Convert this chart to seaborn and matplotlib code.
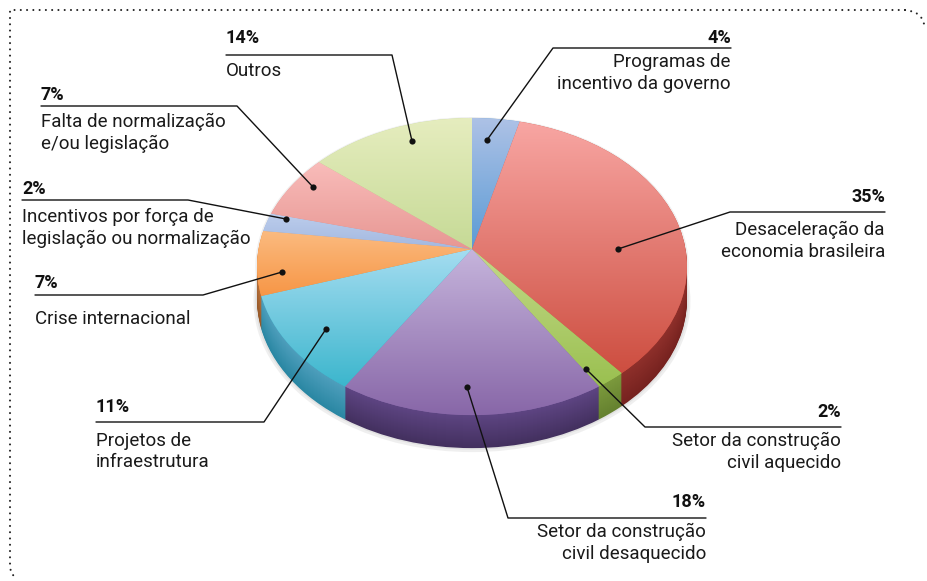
import numpy as np
import pandas as pd
import seaborn as sns
from matplotlib import pyplot as plt
from matplotlib.colors import LinearSegmentedColormap, to_rgb
from matplotlib.transforms import Transform

categories = ['Programas de\nincentivo da governo', 'Desaceleração da\neconomia brasileira',
              'Setor da construção\ncivil aquecido', 'Setor da construção\ncivil desaquecido',
              'Projetos de\ninfraestrutura', 'Crise internacional',
              'Incentivos por força de\nlegislação ou normalização',
              'Falta de normalização\ne/ou legislação', 'Outros']
shares = [4, 35, 2, 18, 11, 7, 2, 7, 14]
face_top = ['#aec2e6', '#f8a6a3', '#c4d98a', '#c6b5dc', '#a6ddf1', '#fbbb80', '#bccdec', '#f9bcba', '#e6edbf']
face_bottom = ['#5b9bd5', '#cd4e40', '#9ac050', '#8867a8', '#3cb6cd', '#f79646', '#a3b8e0', '#e79793', '#c6da96']
rim_top = ['#5b84b1', '#8f302b', '#7c9a3d', '#5e4583', '#4f9fbd', '#b9713a', '#7f93b8', '#a96a68', '#93a36a']
rim_bottom = ['#466a92', '#76221f', '#65812f', '#43305f', '#2a87a3', '#95592a', '#66799b', '#8b5250', '#7a8a56']

# text x, align, y of percent, y of each text line, rule ends, leader end
layout = [
    (731, 'right', 38, [62, 84], (731, 553, 48), (487, 140)),
    (885, 'right', 197, [230, 252], (885, 730, 212), (618, 249)),
    (841, 'right', 412, [441, 463], (841, 645, 427), (586, 369)),
    (706, 'right', 502, [532, 554], (706, 508, 518), (467, 387)),
    (96, 'left', 407, [441, 462], (96, 264, 422), (326, 329)),
    (35, 'left', 283, [319], (35, 203, 295), (282, 272)),
    (22, 'left', 189, [217, 239], (22, 188, 200), (286, 219)),
    (41, 'left', 95, [122, 144], (41, 237, 106), (313, 187)),
    (226, 'left', 38, [71], (226, 392, 55), (412, 141)),
]

sns.set_theme(style='white')
plt.rcParams['font.family'] = ['Roboto', 'DejaVu Sans']


class Perspective(Transform):
    # tilted disc: far side shrinks, near side grows
    input_dims = output_dims = 2

    def __init__(self, cy):
        super().__init__()
        self.cy = cy

    def transform_non_affine(self, xy):
        xy = np.asarray(xy)
        w = 1 + 0.118 * xy[:, 1]
        return np.column_stack([472 + 213.5 * xy[:, 0] / w, self.cy - 146.5 * xy[:, 1] / w])


def blend(a, b, t):
    return tuple((1 - t) * np.array(to_rgb(a)) + t * np.array(to_rgb(b)))


def draw_pie(ax, colors, cy, radius=1, alpha=None, zorder=1):
    wedges, _ = ax.pie(shares, colors=colors, startangle=90, counterclock=False, radius=radius,
                       normalize=True, wedgeprops={'linewidth': 0, 'alpha': alpha, 'zorder': zorder})
    persp = Perspective(cy)
    for w in wedges:
        w.set_transform(persp + ax.transData)
    return wedges, persp


fig = plt.figure(figsize=(9.27, 5.81), dpi=100)
ax = fig.add_axes([0, 0, 1, 1])

# soft shadow round the disc
for grow, depth in [(1.016, 34), (1.008, 33), (1.008, 0)]:
    draw_pie(ax, ['#808080'] * len(shares), 249 + depth, radius=grow, alpha=0.12, zorder=1)

# side wall, stacked from the bottom up
for depth in np.arange(33, 0, -1):
    t = 1 - depth / 33
    draw_pie(ax, [blend(b, a, t) for a, b in zip(rim_top, rim_bottom)], 249 + depth, zorder=2)

# top face with a vertical gradient in each slice
wedges, persp = draw_pie(ax, face_bottom, 249, zorder=3)
for w, c0, c1 in zip(wedges, face_top, face_bottom):
    verts = (w.get_patch_transform() + persp).transform_path(w.get_path()).vertices
    x0, y0 = verts.min(axis=0)
    x1, y1 = verts.max(axis=0)
    cmap = LinearSegmentedColormap.from_list('face', [c0, c1])
    im = ax.imshow(np.linspace(0, 1, 256)[:, None], cmap=cmap, aspect='auto',
                   extent=(x0, x1, y1, y0), zorder=4)
    im.set_clip_path(w)

ax.set_aspect('auto')

# dotted frame
ax.plot([905, 10, 10, 11, 17], [10, 10, 565, 573, 579], color='#222222', lw=1.5,
        ls=(0, (0.01, 3.0)), dash_capstyle='round', zorder=5)
ax.plot([905, 915, 921, 925], [10, 12, 17, 26], color='#222222', lw=1.5,
        ls=(0, (0.01, 3.0)), dash_capstyle='round', zorder=5)

# labels, rules and leaders
for cat, share, (tx, ha, py, lines, rule, tip) in zip(categories, shares, layout):
    ax.text(tx, py, f'{share}%', ha=ha, va='center', fontsize=13, fontweight='bold',
            color='#111111', zorder=6)
    for line, ly in zip(cat.split('\n'), lines):
        ax.text(tx, ly, line, ha=ha, va='center', fontsize=13.5, color='#1a1a1a', zorder=6)
    ax.plot([rule[0], rule[1], tip[0]], [rule[2], rule[2], tip[1]], color='#111111', lw=1.0, zorder=6)

tips = pd.DataFrame([row[5] for row in layout], columns=['x', 'y'])
sns.scatterplot(data=tips, x='x', y='y', ax=ax, color='#111111', s=20, linewidth=0, zorder=7)
ax.set_xlim(0, 927)
ax.set_ylim(581, 0)
ax.axis('off')

fig.savefig('out.png', dpi=100)
